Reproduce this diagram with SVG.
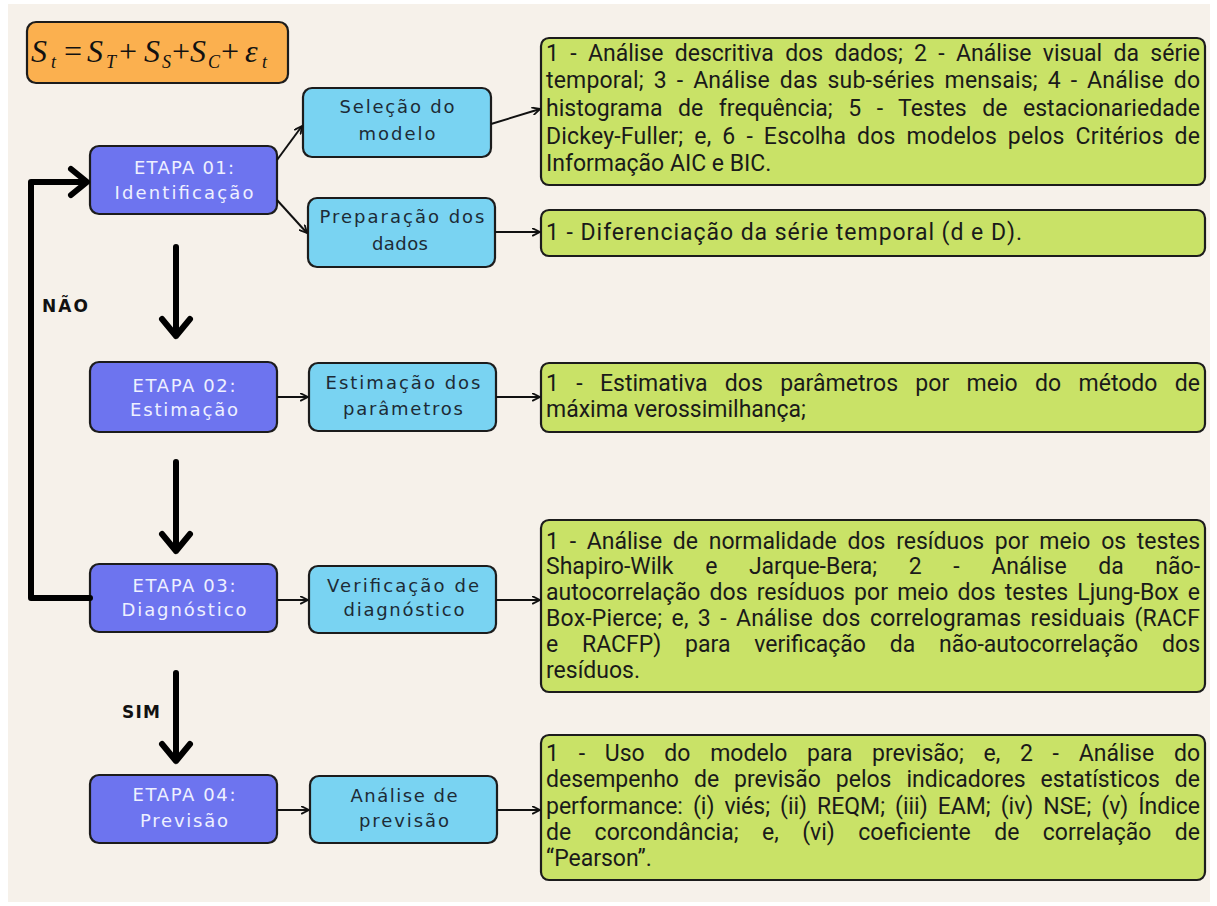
<svg xmlns="http://www.w3.org/2000/svg" width="1217" height="906" viewBox="0 0 1217 906">
<defs>
<marker id="ah" viewBox="0 0 10 10" refX="9" refY="5" markerWidth="9" markerHeight="9" markerUnits="userSpaceOnUse" orient="auto">
<path d="M1,1 L9,5 L1,9" fill="none" stroke="#111" stroke-width="2" stroke-linejoin="round" stroke-linecap="round"/>
</marker>
</defs>
<style>
.box{stroke:#1c1c1c;stroke-width:2.2}
.etapa{fill:#6d74ef}
.sub{fill:#79d3f2}
.green{fill:#c9e267}
.et{font-family:"DejaVu Sans",sans-serif;font-size:18px;fill:#eef0ff;text-anchor:middle}
.st{font-family:"DejaVu Sans",sans-serif;font-size:18px;fill:#1d2b36;text-anchor:middle}
.gt{font-family:Roboto,"Noto Sans",sans-serif;font-size:23px;fill:#1a1a1a}
.thin{fill:none;stroke:#111;stroke-width:2;marker-end:url(#ah)}
.thick{fill:none;stroke:#000;stroke-width:6;stroke-linecap:round;stroke-linejoin:round}
.lbl{font-family:"DejaVu Sans",sans-serif;font-weight:bold;font-size:17px;fill:#111}
.fm{font-family:"Liberation Serif",serif;font-style:italic;font-size:32px;fill:#111}
.fs{font-family:"Liberation Serif",serif;font-style:italic;font-size:18px;fill:#111}
.fo{font-family:"Liberation Serif",serif;font-size:32px;fill:#111}
</style>
<rect width="1217" height="906" fill="#ffffff"/>
<rect x="8" y="4" width="1202" height="898" fill="#f6f1ea"/>

<g id="formula">
<rect class="box" x="27" y="22" width="261" height="61" rx="9" fill="#fbb04f"/>
<text class="fm" x="31" y="62">S</text><text class="fs" x="51" y="68">t</text>
<text class="fo" x="64" y="62">=</text>
<text class="fm" x="87" y="62">S</text><text class="fs" x="106" y="68">T</text>
<text class="fo" x="119" y="62">+</text>
<text class="fm" x="144" y="62">S</text><text class="fs" x="162" y="68">S</text>
<text class="fo" x="172" y="62">+</text>
<text class="fm" x="190" y="62">S</text><text class="fs" x="208" y="68">C</text>
<text class="fo" x="221" y="62">+</text>
<text class="fm" x="245" y="62">ε</text><text class="fs" x="262" y="68">t</text>
</g>

<g id="etapa01">
<rect class="box etapa" x="90" y="146" width="187" height="68" rx="9"/>
<text class="et" x="184" y="174" textLength="100">ETAPA 01:</text>
<text class="et" x="184" y="199" textLength="139">Identificação</text>
</g>
<g id="etapa02">
<rect class="box etapa" x="90" y="362" width="187" height="70" rx="9"/>
<text class="et" x="184" y="392" textLength="103">ETAPA 02:</text>
<text class="et" x="184" y="416" textLength="108">Estimação</text>
</g>
<g id="etapa03">
<rect class="box etapa" x="90" y="564" width="187" height="68" rx="9"/>
<text class="et" x="184" y="592" textLength="103">ETAPA 03:</text>
<text class="et" x="184" y="616" textLength="125">Diagnóstico</text>
</g>
<g id="etapa04">
<rect class="box etapa" x="90" y="775" width="187" height="68" rx="9"/>
<text class="et" x="184" y="801" textLength="103">ETAPA 04:</text>
<text class="et" x="184" y="827" textLength="88">Previsão</text>
</g>

<g id="selecao">
<rect class="box sub" x="303" y="88" width="188" height="69" rx="9"/>
<text class="st" x="397" y="113" textLength="115">Seleção do</text>
<text class="st" x="397" y="140" textLength="77">modelo</text>
</g>
<g id="preparacao">
<rect class="box sub" x="308" y="198" width="187" height="69" rx="9"/>
<text class="st" x="402" y="223" textLength="165">Preparação dos</text>
<text class="st" x="400" y="250" textLength="56">dados</text>
</g>
<g id="estimacao">
<rect class="box sub" x="309" y="363" width="187" height="68" rx="9"/>
<text class="st" x="403" y="389" textLength="155">Estimação dos</text>
<text class="st" x="403" y="415" textLength="120">parâmetros</text>
</g>
<g id="verificacao">
<rect class="box sub" x="309" y="566" width="187" height="67" rx="9"/>
<text class="st" x="403" y="592" textLength="152">Verificação de</text>
<text class="st" x="404" y="616" textLength="121">diagnóstico</text>
</g>
<g id="analise">
<rect class="box sub" x="310" y="776" width="187" height="67" rx="9"/>
<text class="st" x="404" y="802" textLength="107">Análise de</text>
<text class="st" x="404" y="827" textLength="90">previsão</text>
</g>

<g id="desc1">
<rect class="box green" x="541" y="38" width="664" height="147" rx="8"/>
<text class="gt" x="546" y="61" word-spacing="5.6" textLength="654" lengthAdjust="spacing">1 - Análise descritiva dos dados; 2 - Análise visual da série</text>
<text class="gt" x="546" y="88" word-spacing="4" textLength="654" lengthAdjust="spacing">temporal; 3 - Análise das sub-séries mensais; 4 -  Análise do</text>
<text class="gt" x="546" y="116" word-spacing="9.7" textLength="654" lengthAdjust="spacing">histograma de frequência; 5 - Testes de estacionariedade</text>
<text class="gt" x="546" y="144" word-spacing="5" textLength="654" lengthAdjust="spacing">Dickey-Fuller; e, 6 - Escolha dos modelos  pelos Critérios de</text>
<text class="gt" x="546" y="171">Informação AIC e BIC.</text>
</g>
<g id="desc2">
<rect class="box green" x="541" y="210" width="664" height="46" rx="8"/>
<text class="gt" x="546" y="240" textLength="476" lengthAdjust="spacing">1 - Diferenciação da série temporal (d e D).</text>
</g>
<g id="desc3">
<rect class="box green" x="541" y="363" width="664" height="69" rx="8"/>
<text class="gt" x="546" y="391" word-spacing="11.6" textLength="654" lengthAdjust="spacing">1 - Estimativa dos parâmetros por meio do método de</text>
<text class="gt" x="546" y="417">máxima verossimilhança;</text>
</g>
<g id="desc4">
<rect class="box green" x="541" y="520" width="664" height="172" rx="8"/>
<text class="gt" x="546" y="549" word-spacing="5" textLength="654" lengthAdjust="spacing">1 - Análise de normalidade dos resíduos por meio os testes</text>
<text class="gt" x="546" y="574" word-spacing="25.9" textLength="654" lengthAdjust="spacing">Shapiro-Wilk e Jarque-Bera; 2 - Análise da não-</text>
<text class="gt" x="546" y="600" word-spacing="3.5" textLength="654" lengthAdjust="spacing">autocorrelação dos resíduos por meio dos testes Ljung-Box e</text>
<text class="gt" x="546" y="626" word-spacing="3.3" textLength="654" lengthAdjust="spacing">Box-Pierce; e, 3 - Análise dos correlogramas residuais (RACF</text>
<text class="gt" x="546" y="652" word-spacing="18" textLength="654" lengthAdjust="spacing">e RACFP) para verificação da não-autocorrelação dos</text>
<text class="gt" x="546" y="678">resíduos.</text>
</g>
<g id="desc5">
<rect class="box green" x="541" y="735" width="664" height="145" rx="8"/>
<text class="gt" x="546" y="761" word-spacing="14" textLength="654" lengthAdjust="spacing">1 - Uso do modelo para previsão; e, 2 - Análise do</text>
<text class="gt" x="546" y="787" word-spacing="9.3" textLength="654" lengthAdjust="spacing">desempenho de previsão pelos indicadores estatísticos de</text>
<text class="gt" x="546" y="814" word-spacing="4.4" textLength="654" lengthAdjust="spacing">performance: (i) viés; (ii) REQM; (iii) EAM; (iv) NSE; (v) Índice</text>
<text class="gt" x="546" y="840" word-spacing="17.7" textLength="654" lengthAdjust="spacing">de corcondância; e, (vi) coeficiente de correlação de</text>
<text class="gt" x="546" y="866">“Pearson”.</text>
</g>

<g id="connectors">
<path class="thin" d="M277,160 L302,126"/>
<path class="thin" d="M277,200 L307,233"/>
<path class="thin" d="M491,124 L540,109"/>
<path class="thin" d="M495,232 L540,232"/>
<path class="thin" d="M277,397 L308,397"/>
<path class="thin" d="M496,397 L540,397"/>
<path class="thin" d="M277,600 L308,600"/>
<path class="thin" d="M496,600 L540,600"/>
<path class="thin" d="M277,810 L309,810"/>
<path class="thin" d="M497,810 L540,810"/>
<path class="thick" d="M176,247 L176,336 M162,319 L176,336 L190,319"/>
<path class="thick" d="M176,462 L176,551 M162,534 L176,551 L190,534"/>
<path class="thick" d="M176,673 L176,761 M162,744 L176,761 L190,744"/>
<path class="thick" d="M90,598 L31,598 L31,182 L86,182 M71,169 L87,182 L71,195" stroke-linecap="butt"/>
</g>
<text class="lbl" x="42" y="312" textLength="46">NÃO</text>
<text class="lbl" x="122" y="718" textLength="38">SIM</text>
</svg>
